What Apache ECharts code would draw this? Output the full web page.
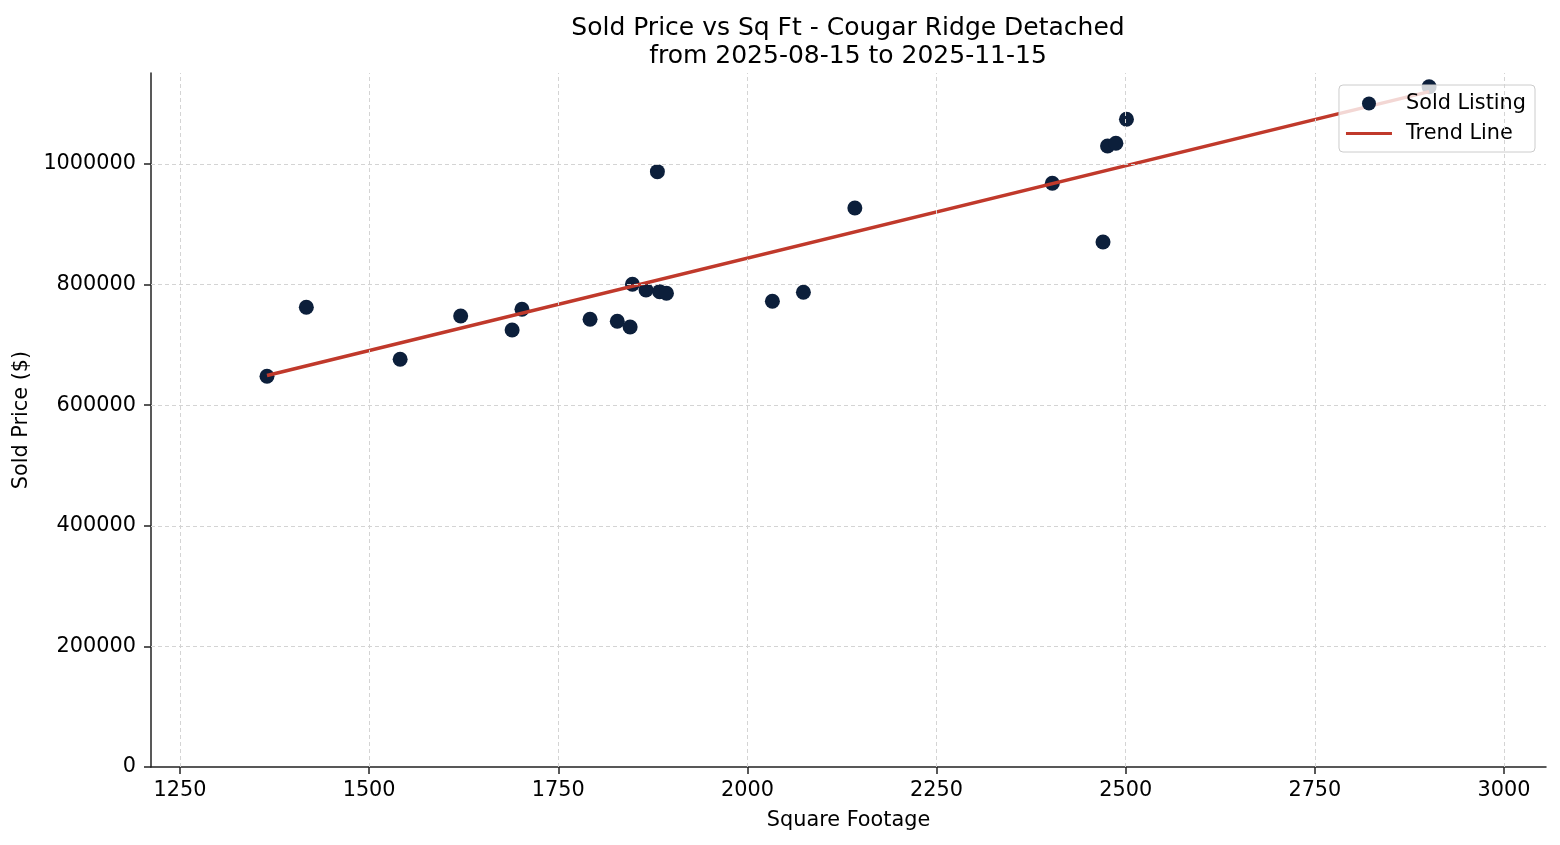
<!DOCTYPE html>
<html>
<head>
<meta charset="utf-8">
<script src="https://cdn.jsdelivr.net/npm/echarts@6/dist/echarts.min.js"></script>
<style>
html,body{margin:0;padding:0;background:#fff;}
#chart{width:1560px;height:845px;}
</style>
</head>
<body>
<div id="chart"></div>
<script>
// Sold listings (square footage, sold price)
const sqft = [1365, 1417, 1541, 1621, 1689, 1702, 1792, 1828, 1845, 1848, 1866, 1881, 1884, 1893, 2033, 2074, 2142, 2403, 2470, 2476, 2487, 2501, 2901];
const price = [647900, 762400, 676100, 747900, 724700, 759000, 742500, 739100, 729700, 800500, 791100, 987300, 788300, 785600, 772300, 787200, 927000, 968000, 870700, 1029900, 1034300, 1074100, 1128200];
// Trend line endpoints
const trendX = [1365, 2901];
const trendY = [649300, 1120000];
// Tick labels
const xTicks = [1250, 1500, 1750, 2000, 2250, 2500, 2750, 3000];
const yTicks = [0, 200000, 400000, 600000, 800000, 1000000];

const FONT = 'DejaVu Sans';
const AXIS_COLOR = '#222';
const FS = 20.8;

const scatterData = sqft.map((x, i) => [x, price[i]]);
const trendData = trendX.map((x, i) => [x, trendY[i]]);
const gridLines = xTicks.map(v => ({ xAxis: v })).concat(yTicks.filter(v => v > 0).map(v => ({ yAxis: v })));

const chart = echarts.init(document.getElementById('chart'), null, { renderer: 'canvas' });
chart.setOption({
  animation: false,
  backgroundColor: '#ffffff',
  textStyle: { fontFamily: FONT },
  title: {
    text: 'Sold Price vs Sq Ft - Cougar Ridge Detached\nfrom 2025-08-15 to 2025-11-15',
    left: 843,
    top: 9,
    textAlign: 'center',
    textStyle: { fontFamily: FONT, fontSize: 25, fontWeight: 'normal', color: '#000', lineHeight: 28 }
  },
  legend: {
    orient: 'vertical',
    right: 25,
    top: 85,
    itemWidth: 46,
    itemHeight: 14,
    itemGap: 9,
    padding: [8, 9, 8, 7],
    backgroundColor: 'rgba(255,255,255,0.8)',
    borderColor: '#cccccc',
    borderWidth: 1,
    borderRadius: 4,
    symbolKeepAspect: true,
    textStyle: { fontFamily: FONT, fontSize: FS, color: '#000', padding: [0, 0, 0, 9] },
    data: [
      { name: 'Sold Listing', icon: 'circle' },
      { name: 'Trend Line', icon: 'path://M0,0 L46,0 L46,3 L0,3 Z' }
    ]
  },
  grid: { left: 151, right: 14, top: 73, bottom: 78, containLabel: false, outerBoundsMode: 'none' },
  xAxis: {
    type: 'value',
    min: 1211.7,
    max: 3055.5,
    name: 'Square Footage',
    nameLocation: 'middle',
    nameGap: 43,
    nameTextStyle: { fontFamily: FONT, fontSize: FS, color: '#000' },
    axisLine: { show: true, onZero: false, lineStyle: { color: AXIS_COLOR, width: 1.5 } },
    axisTick: { show: true, inside: false, length: 7, customValues: xTicks, lineStyle: { color: AXIS_COLOR, width: 1.5 } },
    axisLabel: { show: true, margin: 13, customValues: xTicks, fontFamily: FONT, fontSize: FS, color: '#000', formatter: v => String(v) },
    splitLine: { show: false }
  },
  yAxis: {
    type: 'value',
    min: 0,
    max: 1150900,
    name: 'Sold Price ($)',
    nameLocation: 'middle',
    nameGap: 117,
    nameTextStyle: { fontFamily: FONT, fontSize: FS, color: '#000' },
    axisLine: { show: true, onZero: false, lineStyle: { color: AXIS_COLOR, width: 1.5 } },
    axisTick: { show: true, inside: false, length: 7, customValues: yTicks, lineStyle: { color: AXIS_COLOR, width: 1.5 } },
    axisLabel: { show: true, margin: 15, customValues: yTicks, fontFamily: FONT, fontSize: FS, color: '#000', formatter: v => String(v) },
    splitLine: { show: false }
  },
  series: [
    {
      name: 'gridlines',
      type: 'scatter',
      data: [],
      z: 1,
      silent: true,
      markLine: {
        silent: true,
        symbol: ['none', 'none'],
        label: { show: false },
        lineStyle: { color: '#d4d4d4', width: 1, type: [4, 3] },
        data: gridLines,
        animation: false
      }
    },
    {
      name: 'Sold Listing',
      type: 'scatter',
      data: scatterData,
      symbol: 'circle',
      symbolSize: 15,
      itemStyle: { color: '#0c1f3b', opacity: 1 },
      z: 2
    },
    {
      name: 'Trend Line',
      type: 'line',
      data: trendData,
      symbol: 'none',
      showSymbol: false,
      lineStyle: { color: '#c0392b', width: 3.5 },
      itemStyle: { color: '#c0392b' },
      z: 3
    }
  ]
});
</script>
</body>
</html>
